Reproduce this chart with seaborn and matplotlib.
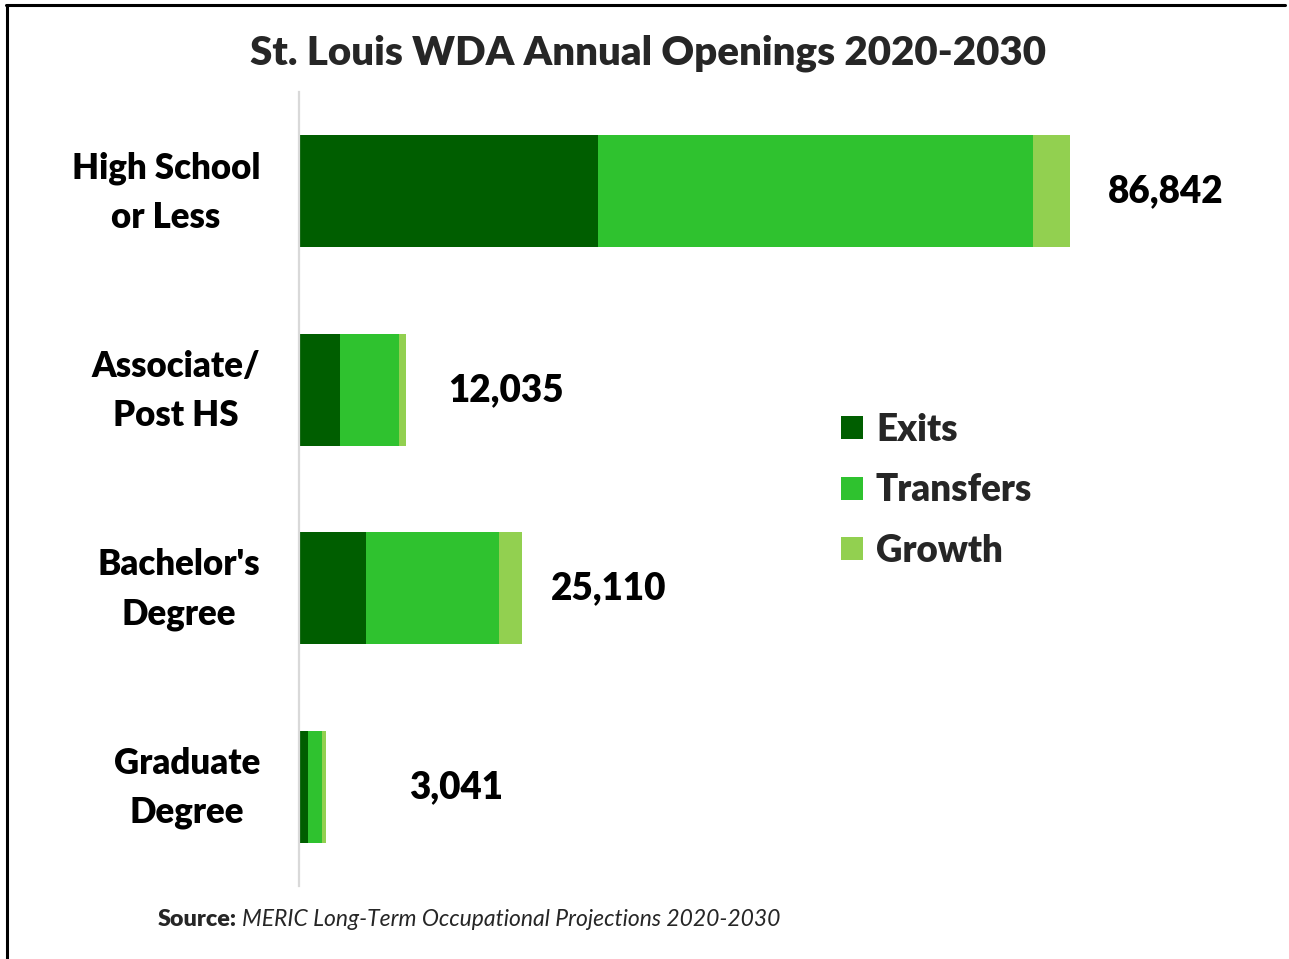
import numpy as np
import pandas as pd
import matplotlib.pyplot as plt
import seaborn as sns

# data
categories = ['High School\nor Less', 'Associate/\nPost HS', "Bachelor's\nDegree", 'Graduate\nDegree']
exits = [33670, 4650, 7550, 1020]
transfers = [49000, 6600, 14970, 1580]
growth = [4172, 785, 2590, 441]
totals = [86842, 12035, 25110, 3041]

colors = {'Exits': '#005E00', 'Transfers': '#2FC22F', 'Growth': '#92D050'}

df = pd.DataFrame({'cat': categories, 'Exits': exits,
                   'Transfers': transfers, 'Growth': growth})
# cumulative sums so the segments can be layered as overlapping bars
df['c_exits'] = df['Exits']
df['c_trans'] = df['Exits'] + df['Transfers']
df['c_grow'] = df['c_trans'] + df['Growth']

sns.set_theme(style='white')
plt.rcParams['font.family'] = ['Lato', 'DejaVu Sans']
BOLD = 'heavy'

fig = plt.figure(figsize=(12.89, 9.59), dpi=100)
ax = fig.add_axes([0.232, 0.076, 0.738, 0.828])

for col, name in [('c_grow', 'Growth'), ('c_trans', 'Transfers'), ('c_exits', 'Exits')]:
    sns.barplot(data=df, y='cat', x=col, color=colors[name], width=0.565,
                orient='h', ax=ax, saturation=1, label=name, linewidth=0)

ax.set_xlim(0, 107100)
ax.set_ylim(3.5, -0.5)
ax.set_xlabel('')
ax.set_ylabel('')
ax.set_xticks([])
for s in ['top', 'right', 'bottom']:
    ax.spines[s].set_visible(False)
ax.spines['left'].set_color('#d9d9d9')
ax.spines['left'].set_linewidth(1.6)
ax.tick_params(axis='y', length=0)

# category labels drawn as text, right-aligned block, centred lines
ax.set_yticklabels([])
for i, cat in enumerate(categories):
    ax.annotate(cat, xy=(0, i), xycoords=('axes fraction', 'data'),
                xytext=(-28, -0.8), textcoords='offset points',
                ha='right', va='center', multialignment='center',
                linespacing=1.6, fontsize=25, fontweight=BOLD, color='black')

# total labels, padded to the right of each bar
label_pad = [4200, 4800, 3200, 9300]
for i, (t, p) in enumerate(zip(totals, label_pad)):
    ax.text(t + p, i, f'{t:,}', ha='left', va='center',
            fontsize=26.5, fontweight=BOLD, color='black')

# legend in Exits / Transfers / Growth order
handles, labels = ax.get_legend_handles_labels()
order = [labels.index(n) for n in ['Exits', 'Transfers', 'Growth']]
ax.legend([handles[i] for i in order], [labels[i] for i in order],
          loc='upper left', bbox_to_anchor=(0.641, 0.585),
          bbox_transform=fig.transFigure, frameon=False,
          prop={'size': 26.5, 'weight': BOLD},
          handlelength=0.6, handleheight=0.6, handletextpad=0.35,
          labelspacing=0.72, borderaxespad=0)

fig.suptitle('St. Louis WDA Annual Openings 2020-2030', x=0.503, y=0.964,
             fontsize=29, fontweight=BOLD, va='top')

src = fig.text(0.122, 0.041, 'Source:', fontsize=16.8, fontweight=BOLD,
               ha='left', va='center')
ax.annotate('MERIC Long-Term Occupational Projections 2020-2030',
            xy=(1, 0.5), xycoords=src, xytext=(4, 0), textcoords='offset points',
            fontsize=16.5, fontstyle='italic', ha='left', va='center')

# frame lines on the left and top edges like the source image
fig.add_artist(plt.Line2D([0.0055, 0.0055], [0, 0.995], color='black', lw=2.2,
                          transform=fig.transFigure))
fig.add_artist(plt.Line2D([0.0045, 0.997], [0.9945, 0.9945], color='black', lw=2.2,
                          transform=fig.transFigure))

fig.savefig('out.png', dpi=100)
